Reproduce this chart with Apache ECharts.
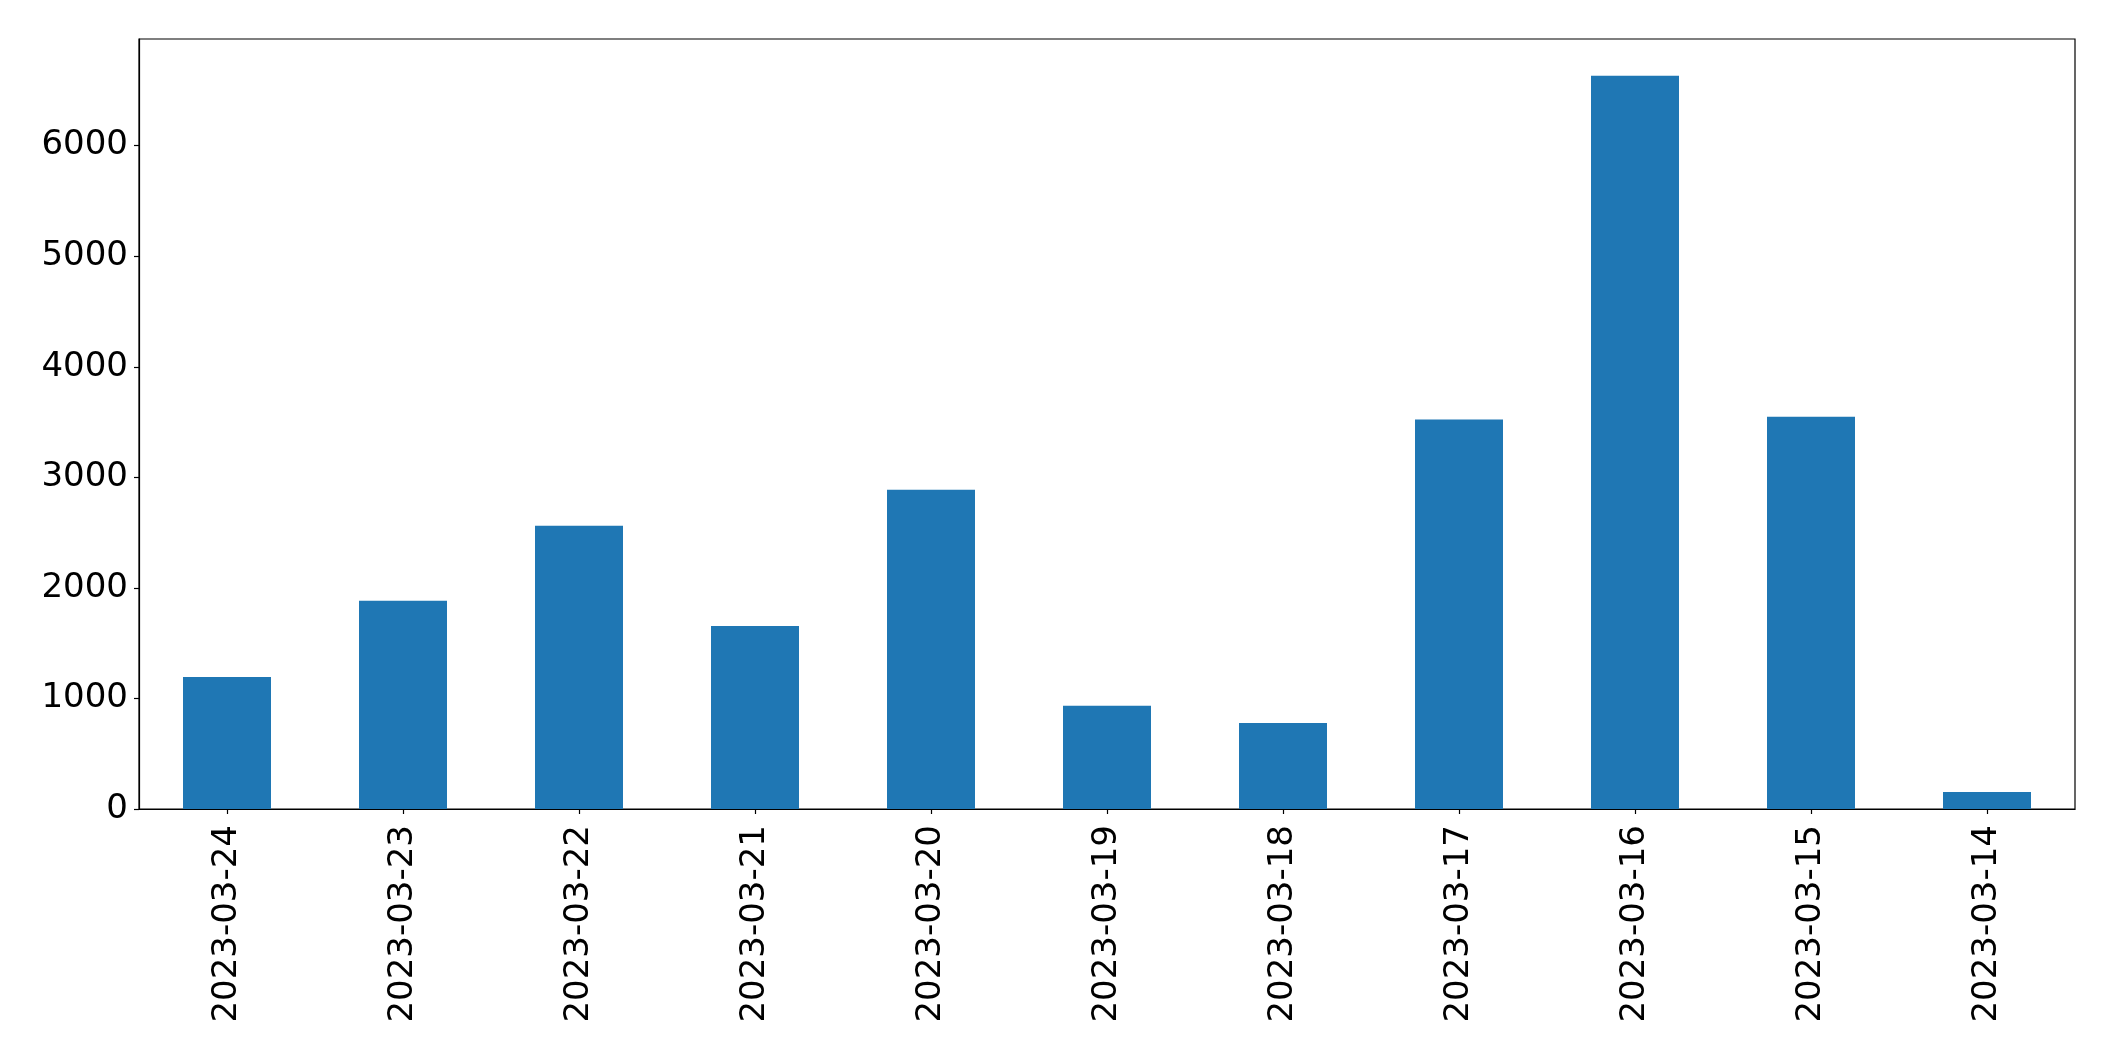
<!DOCTYPE html>
<html>
<head>
<meta charset="utf-8">
<script src="https://cdn.jsdelivr.net/npm/echarts@6/dist/echarts.min.js"></script>
<style>
html, body { margin: 0; padding: 0; background: #ffffff; }
#chart { width: 2115px; height: 1061px; }
</style>
</head>
<body>
<div id="chart"></div>
<script>
const categories = ["2023-03-24", "2023-03-23", "2023-03-22", "2023-03-21", "2023-03-20", "2023-03-19", "2023-03-18", "2023-03-17", "2023-03-16", "2023-03-15", "2023-03-14"];
const values = [1195, 1884, 2563, 1656, 2888, 934, 778, 3522, 6633, 3549, 154];
const yTicks = [0, 1000, 2000, 3000, 4000, 5000, 6000];

const yMax = Math.max(...values) * 1.05;
const FONT = "DejaVu Sans";

const chart = echarts.init(document.getElementById('chart'), null, { renderer: 'canvas' });
chart.setOption({
  animation: false,
  backgroundColor: '#ffffff',
  grid: {
    left: 139, right: 40, top: 39, bottom: 252,
    show: true, borderColor: '#000000', borderWidth: 1.2, backgroundColor: 'transparent',
    containLabel: false
  },
  xAxis: {
    type: 'category',
    data: categories,
    boundaryGap: true,
    axisLine: { show: true, lineStyle: { color: '#000000', width: 1.2 } },
    axisTick: { show: true, alignWithLabel: true, length: 5, lineStyle: { color: '#000000', width: 1.2 } },
    axisLabel: {
      rotate: 90, margin: 16, color: '#000000',
      fontFamily: FONT, fontSize: 34, interval: 0
    },
    splitLine: { show: false }
  },
  yAxis: {
    type: 'value',
    min: 0,
    max: yMax,
    interval: 1000,
    axisLine: { show: true, lineStyle: { color: '#000000', width: 1.2 } },
    axisTick: { show: true, length: 5, lineStyle: { color: '#000000', width: 1.2 }, customValues: yTicks },
    axisLabel: {
      margin: 11, color: '#000000', fontFamily: FONT, fontSize: 34,
      customValues: yTicks,
      formatter: function (v) { return String(v); }
    },
    splitLine: { show: false }
  },
  series: [{
    type: 'bar',
    data: values,
    barWidth: '50%',
    itemStyle: { color: '#1f77b4' }
  }]
});
</script>
</body>
</html>
